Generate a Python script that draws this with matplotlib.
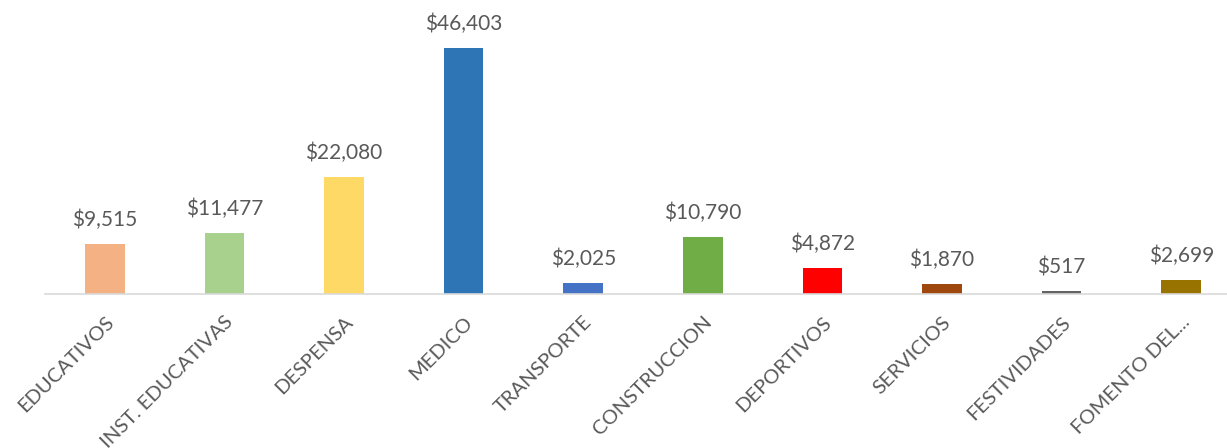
import matplotlib.pyplot as plt

categorias = ["EDUCATIVOS", "INST. EDUCATIVAS", "DESPENSA", "MEDICO", "TRANSPORTE",
              "CONSTRUCCION", "DEPORTIVOS", "SERVICIOS", "FESTIVIDADES", "FOMENTO DEL..."]
montos = [9515, 11477, 22080, 46403, 2025, 10790, 4872, 1870, 517, 2699]
colores = ["#F4B183", "#A9D18E", "#FFD966", "#2E75B6", "#4472C4",
           "#70AD47", "#FF0000", "#9E480E", "#636363", "#997300"]

plt.rcParams['font.family'] = ['Lato', 'DejaVu Sans']

fig = plt.figure(figsize=(12.27, 4.48), dpi=100)
ax = fig.add_axes([45 / 1227, 154 / 448, 1196 / 1227, 294 / 448])

x = range(len(categorias))
bars = ax.bar(x, montos, width=0.33, color=colores)
for b, v in zip(bars, montos):
    ax.annotate(f"${v:,}", (b.get_x() + b.get_width() / 2, v), xytext=(0, 10),
                textcoords="offset points", ha="center", va="bottom",
                fontsize=15, color="#595959")

ax.set_xlim(-0.5, len(categorias) - 0.5)
ax.set_ylim(0, 55450)
ax.set_xticks(list(x))
ax.set_xticklabels(categorias, rotation=45, ha="right", va="top",
                   rotation_mode="anchor", fontsize=14.5, color="#595959")
ax.tick_params(axis="x", length=0, pad=14)
ax.set_yticks([])
for s in ["top", "right", "left"]:
    ax.spines[s].set_visible(False)
ax.spines["bottom"].set_color("#D9D9D9")
ax.spines["bottom"].set_linewidth(1.2)

fig.savefig("out.png", dpi=100)
